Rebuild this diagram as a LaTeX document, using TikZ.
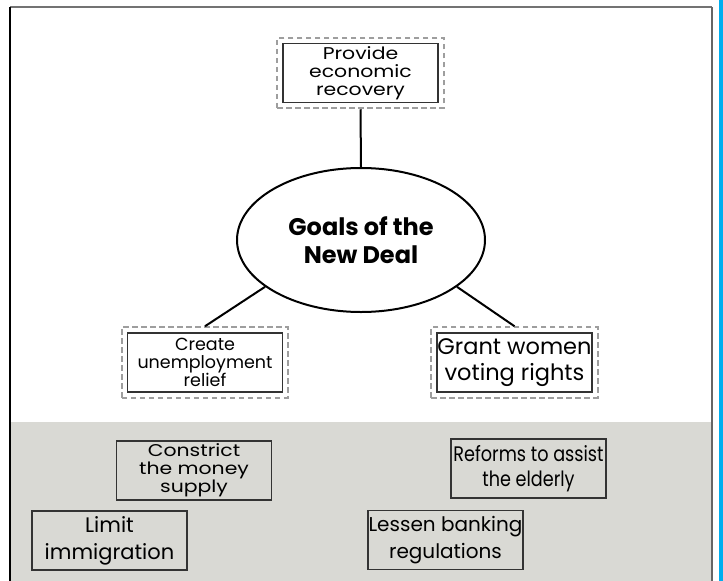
\documentclass[tikz,border=0pt]{standalone}
\usepackage{fontspec}
\setmainfont{Poppins}
\newfontfamily\narrowfont[FakeStretch=0.84]{Poppins}
\newfontfamily\widefont[FakeStretch=1.2]{Poppins}
\usetikzlibrary{shapes.geometric,fit}
\definecolor{panelgray}{HTML}{D9D9D4}
\definecolor{edgeblue}{HTML}{00AEEF}
\begin{document}
\begin{tikzpicture}[x=1pt,y=-1pt,
  goalbox/.style={draw=black!80, line width=1.3pt, align=center, inner sep=0pt,
    minimum width=155pt, minimum height=59pt},
  dashframe/.style={draw=black!38, dash pattern=on 5.5pt off 3.5pt, line width=2.2pt, inner sep=5pt},
  optbox/.style={draw=black!80, line width=1.2pt, align=center, inner sep=0pt,
    minimum width=155pt, minimum height=59pt},
  link/.style={line width=2pt, black}]
\useasboundingbox (0,0) rectangle (723,581);
\fill[white] (0,0) rectangle (723,581);
% shaded answer bank
\fill[panelgray] (11,422) rectangle (711,581);
% page frame and side strip
\draw[black!55, line width=1.5pt] (10,7) -- (712,7);
\draw[black, line width=1.5pt] (10,7) -- (10,581);
\draw[black!60, line width=2pt] (712,7) -- (712,581);
\fill[edgeblue] (719,0) rectangle (723,581);

% central idea
\node[ellipse, draw, line width=2pt, minimum width=248pt, minimum height=144pt, inner sep=0pt,
  align=center, font=\fontsize{24}{28}\selectfont\bfseries] (goal) at (361,240) {Goals of the\\New Deal};

% goals already placed
\node[goalbox, font=\widefont\fontsize{17}{18}\selectfont] (recov) at (360.5,73) {Provide\\economic\\recovery};
\node[dashframe, fit=(recov)] (recovf) {};
\node[goalbox, font=\fontsize{17.5}{18}\selectfont] (relief) at (205,362.5) {Create\\unemployment\\relief};
\node[dashframe, fit=(relief)] (relieff) {};
\node[goalbox, font=\fontsize{22.5}{26}\selectfont] (vote) at (514.5,362.5) {Grant women\\voting rights};
\node[dashframe, fit=(vote)] (votef) {};

\draw[link] (recovf.south) -- (goal.north);
\draw[link] (relieff.north) -- (goal.206);
\draw[link] (votef.north) -- (goal.334);

% answer bank
\node[optbox, font=\widefont\fontsize{17}{18}\selectfont] (money) at (194,470.5) {Constrict\\the money\\supply};
\node[optbox, font=\fontsize{21}{27}\selectfont] (immig) at (109.5,540.5) {Limit\\immigration};
\node[optbox, font=\narrowfont\fontsize{21}{25}\selectfont] (elder) at (528.5,468.5) {Reforms to assist\\the elderly};
\node[optbox, font=\fontsize{20}{27}\selectfont] (bank) at (445.5,540) {Lessen banking\\regulations};
\end{tikzpicture}
\end{document}
